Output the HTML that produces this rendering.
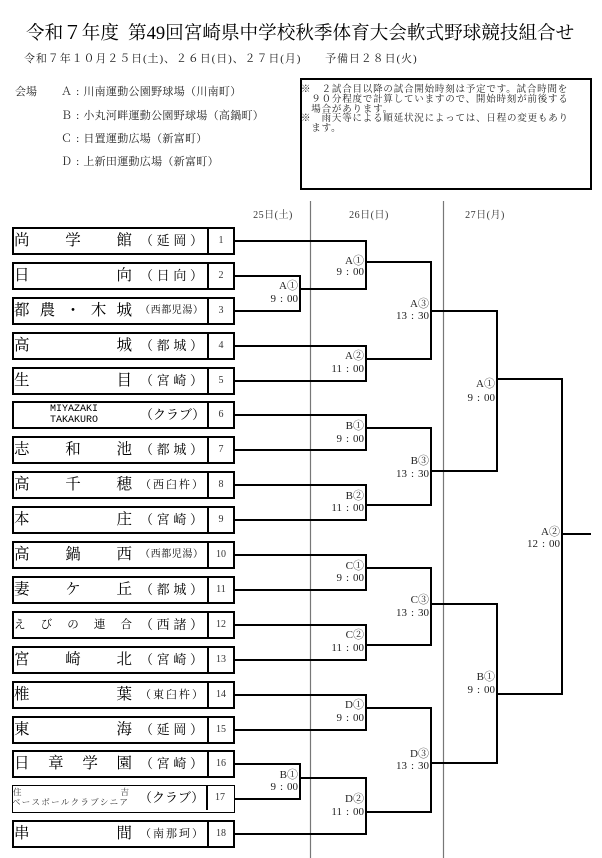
<!DOCTYPE html>
<html><head><meta charset="utf-8">
<style>
html,body{margin:0;padding:0;background:#fff;}
body{width:602px;height:858px;position:relative;overflow:hidden;font-family:"Liberation Serif","Noto Serif CJK SC",serif;color:#000;}
.t{position:absolute;white-space:nowrap;}
.b{position:absolute;left:12px;width:223px;height:28px;border:2px solid #000;box-sizing:border-box;}
.n{position:absolute;left:0;top:0;width:118px;height:24px;display:flex;justify-content:space-between;align-items:center;font-size:15.5px;line-height:24px;}
.a{position:absolute;left:126px;top:0;width:63px;height:24px;display:flex;justify-content:space-between;align-items:center;font-size:13px;line-height:24px;}
.a.s{font-size:10px;}
.a.m{font-size:11px;}
.num{position:absolute;left:193px;top:0;width:26px;height:24px;border-left:2px solid #000;box-sizing:border-box;text-align:center;font-size:10px;line-height:24px;color:#333;}
.lb{position:absolute;white-space:nowrap;text-align:right;font-size:11px;line-height:12px;color:#222;}
.lb i{display:inline-block;width:11px;text-align:center;font-style:normal;}
.dh{position:absolute;width:80px;text-align:center;font-size:10px;line-height:12px;letter-spacing:0.5px;color:#333;}
.v{position:absolute;left:61px;font-size:11px;line-height:12px;letter-spacing:0.3px;color:#222;white-space:nowrap;}
.v i{display:inline-block;width:11px;text-align:center;font-style:normal;}
.nt{position:absolute;left:301px;font-size:9.5px;line-height:10px;letter-spacing:0.8px;color:#222;white-space:nowrap;}
</style></head>
<body>

<div class="t" style="left:26px;top:24px;font-size:18.6px;line-height:19px;">令和７年度<span style="display:inline-block;width:9px"></span>第49回宮崎県中学校秋季体育大会軟式野球競技組合せ</div>
<div class="t" style="left:24px;top:53px;font-size:11px;line-height:12px;letter-spacing:0.9px;color:#222;">令和７年１０月２５日(土)、２６日(日)、２７日(月)　　予備日２８日(火)</div>

<div class="t" style="left:15px;top:86px;font-size:11px;line-height:12px;color:#222;">会場</div>
<div class="v" style="top:86px;">Ａ<i>:</i>川南運動公園野球場（川南町）</div>
<div class="v" style="top:110px;">Ｂ<i>:</i>小丸河畔運動公園野球場（高鍋町）</div>
<div class="v" style="top:133px;">Ｃ<i>:</i>日置運動広場（新富町）</div>
<div class="v" style="top:156px;">Ｄ<i>:</i>上新田運動広場（新富町）</div>

<div style="position:absolute;left:300px;top:78px;width:292px;height:112px;border:2px solid #000;box-sizing:border-box;"></div>
<div class="nt" style="top:85px;">※　２試合目以降の試合開始時刻は予定です。試合時間を</div>
<div class="nt" style="top:95px;">　９０分程度で計算していますので、開始時刻が前後する</div>
<div class="nt" style="top:105px;">　場合があります。</div>
<div class="nt" style="top:114px;">※　雨天等による順延状況によっては、日程の変更もあり</div>
<div class="nt" style="top:124px;">　ます。</div>

<div class="dh" style="left:233px;top:210px;">25日(土)</div>
<div class="dh" style="left:329px;top:210px;">26日(日)</div>
<div class="dh" style="left:445px;top:210px;">27日(月)</div>

<svg width="602" height="858" style="position:absolute;left:0;top:0;" xmlns="http://www.w3.org/2000/svg">
<g stroke="#777" stroke-width="1.2" fill="none">
<path d="M310.5 201 V858"/>
<path d="M443.5 201 V858"/>
</g>
<g stroke="#000" stroke-width="2" fill="none" stroke-linecap="square" stroke-linejoin="miter">
<path d="M235 241 H366 V289"/>
<path d="M235 276 H300 V311 H235"/>
<path d="M300 289 H366"/>
<path d="M366 262 H431"/>
<path d="M235 346 H366 V381 H235"/>
<path d="M366 359 H431"/>
<path d="M431 262 V359"/>
<path d="M431 311 H497"/>
<path d="M235 415 H366 V450 H235"/>
<path d="M366 428 H431"/>
<path d="M235 485 H366 V520 H235"/>
<path d="M366 505 H431"/>
<path d="M431 428 V505"/>
<path d="M431 471 H497"/>
<path d="M497 311 V471"/>
<path d="M497 379 H562"/>
<path d="M235 555 H366 V590 H235"/>
<path d="M366 568 H431"/>
<path d="M235 625 H366 V660 H235"/>
<path d="M366 645 H431"/>
<path d="M431 568 V645"/>
<path d="M431 604 H497"/>
<path d="M235 695 H366 V730 H235"/>
<path d="M366 708 H431"/>
<path d="M235 764 H300 V799 H235"/>
<path d="M300 778 H366 V834 H235"/>
<path d="M366 812 H431"/>
<path d="M431 708 V812"/>
<path d="M431 763 H497"/>
<path d="M497 604 V763"/>
<path d="M497 694 H562"/>
<path d="M562 379 V694"/>
<path d="M562 534 H590"/>
</g>
</svg>

<!-- labels -->
<div class="lb" style="right:304px;top:280px;">A①</div>
<div class="lb" style="right:304px;top:293px;">9<i>:</i>00</div>
<div class="lb" style="right:304px;top:769px;">B①</div>
<div class="lb" style="right:304px;top:781px;">9<i>:</i>00</div>

<div class="lb" style="right:238px;top:255px;">A①</div>
<div class="lb" style="right:238px;top:266px;">9<i>:</i>00</div>
<div class="lb" style="right:238px;top:350px;">A②</div>
<div class="lb" style="right:238px;top:363px;">11<i>:</i>00</div>
<div class="lb" style="right:238px;top:420px;">B①</div>
<div class="lb" style="right:238px;top:433px;">9<i>:</i>00</div>
<div class="lb" style="right:238px;top:490px;">B②</div>
<div class="lb" style="right:238px;top:502px;">11<i>:</i>00</div>
<div class="lb" style="right:238px;top:560px;">C①</div>
<div class="lb" style="right:238px;top:572px;">9<i>:</i>00</div>
<div class="lb" style="right:238px;top:629px;">C②</div>
<div class="lb" style="right:238px;top:642px;">11<i>:</i>00</div>
<div class="lb" style="right:238px;top:699px;">D①</div>
<div class="lb" style="right:238px;top:712px;">9<i>:</i>00</div>
<div class="lb" style="right:238px;top:793px;">D②</div>
<div class="lb" style="right:238px;top:806px;">11<i>:</i>00</div>

<div class="lb" style="right:173px;top:298px;">A③</div>
<div class="lb" style="right:173px;top:310px;">13<i>:</i>30</div>
<div class="lb" style="right:173px;top:455px;">B③</div>
<div class="lb" style="right:173px;top:468px;">13<i>:</i>30</div>
<div class="lb" style="right:173px;top:594px;">C③</div>
<div class="lb" style="right:173px;top:607px;">13<i>:</i>30</div>
<div class="lb" style="right:173px;top:748px;">D③</div>
<div class="lb" style="right:173px;top:760px;">13<i>:</i>30</div>

<div class="lb" style="right:107px;top:378px;">A①</div>
<div class="lb" style="right:107px;top:392px;">9<i>:</i>00</div>
<div class="lb" style="right:107px;top:671px;">B①</div>
<div class="lb" style="right:107px;top:684px;">9<i>:</i>00</div>
<div class="lb" style="right:42px;top:526px;">A②</div>
<div class="lb" style="right:42px;top:538px;">12<i>:</i>00</div>

<!-- team boxes -->
<div class="b" style="top:227px;"><div class="n"><span>尚</span><span>学</span><span>館</span></div><div class="a"><span>（</span><span>延</span><span>岡</span><span>）</span></div><div class="num">1</div></div>
<div class="b" style="top:262px;"><div class="n"><span>日</span><span>向</span></div><div class="a"><span>（</span><span>日</span><span>向</span><span>）</span></div><div class="num">2</div></div>
<div class="b" style="top:297px;"><div class="n"><span>都</span><span>農</span><span>・</span><span>木</span><span>城</span></div><div class="a s"><span>（</span><span>西</span><span>都</span><span>児</span><span>湯</span><span>）</span></div><div class="num">3</div></div>
<div class="b" style="top:332px;"><div class="n"><span>高</span><span>城</span></div><div class="a"><span>（</span><span>都</span><span>城</span><span>）</span></div><div class="num">4</div></div>
<div class="b" style="top:367px;"><div class="n"><span>生</span><span>目</span></div><div class="a"><span>（</span><span>宮</span><span>崎</span><span>）</span></div><div class="num">5</div></div>
<div class="b" style="top:401px;"><div style="position:absolute;left:34px;top:1px;width:52px;font-family:'Liberation Mono',monospace;font-size:10px;line-height:11px;text-align:center;">MIYAZAKI<br>TAKAKURO</div><div class="a"><span>（</span><span>ク</span><span>ラ</span><span>ブ</span><span>）</span></div><div class="num">6</div></div>
<div class="b" style="top:436px;"><div class="n"><span>志</span><span>和</span><span>池</span></div><div class="a"><span>（</span><span>都</span><span>城</span><span>）</span></div><div class="num">7</div></div>
<div class="b" style="top:471px;"><div class="n"><span>高</span><span>千</span><span>穂</span></div><div class="a m"><span>（</span><span>西</span><span>臼</span><span>杵</span><span>）</span></div><div class="num">8</div></div>
<div class="b" style="top:506px;"><div class="n"><span>本</span><span>庄</span></div><div class="a"><span>（</span><span>宮</span><span>崎</span><span>）</span></div><div class="num">9</div></div>
<div class="b" style="top:541px;"><div class="n"><span>高</span><span>鍋</span><span>西</span></div><div class="a s"><span>（</span><span>西</span><span>都</span><span>児</span><span>湯</span><span>）</span></div><div class="num">10</div></div>
<div class="b" style="top:576px;"><div class="n"><span>妻</span><span>ケ</span><span>丘</span></div><div class="a"><span>（</span><span>都</span><span>城</span><span>）</span></div><div class="num">11</div></div>
<div class="b" style="top:611px;"><div class="n" style="font-size:11.5px;"><span>え</span><span>び</span><span>の</span><span>連</span><span>合</span></div><div class="a"><span>（</span><span>西</span><span>諸</span><span>）</span></div><div class="num">12</div></div>
<div class="b" style="top:646px;"><div class="n"><span>宮</span><span>崎</span><span>北</span></div><div class="a"><span>（</span><span>宮</span><span>崎</span><span>）</span></div><div class="num">13</div></div>
<div class="b" style="top:681px;"><div class="n"><span>椎</span><span>葉</span></div><div class="a m"><span>（</span><span>東</span><span>臼</span><span>杵</span><span>）</span></div><div class="num">14</div></div>
<div class="b" style="top:716px;"><div class="n"><span>東</span><span>海</span></div><div class="a"><span>（</span><span>延</span><span>岡</span><span>）</span></div><div class="num">15</div></div>
<div class="b" style="top:750px;"><div class="n"><span>日</span><span>章</span><span>学</span><span>園</span></div><div class="a"><span>（</span><span>宮</span><span>崎</span><span>）</span></div><div class="num">16</div></div>
<div class="b" style="top:785px;border-width:1.5px;"><div style="position:absolute;left:0;top:1px;width:116px;height:10px;display:flex;justify-content:space-between;font-size:8.5px;line-height:10px;color:#333;"><span>住</span><span>吉</span></div><div style="position:absolute;left:-1px;top:11px;width:116px;height:10px;display:flex;justify-content:space-between;font-size:8.5px;line-height:10px;color:#333;"><span>ベ</span><span>ー</span><span>ス</span><span>ボ</span><span>ー</span><span>ル</span><span>ク</span><span>ラ</span><span>ブ</span><span>シ</span><span>ニ</span><span>ア</span></div><div class="a"><span>（</span><span>ク</span><span>ラ</span><span>ブ</span><span>）</span></div><div class="num">17</div></div>
<div class="b" style="top:820px;"><div class="n"><span>串</span><span>間</span></div><div class="a m"><span>（</span><span>南</span><span>那</span><span>珂</span><span>）</span></div><div class="num">18</div></div>

</body></html>
